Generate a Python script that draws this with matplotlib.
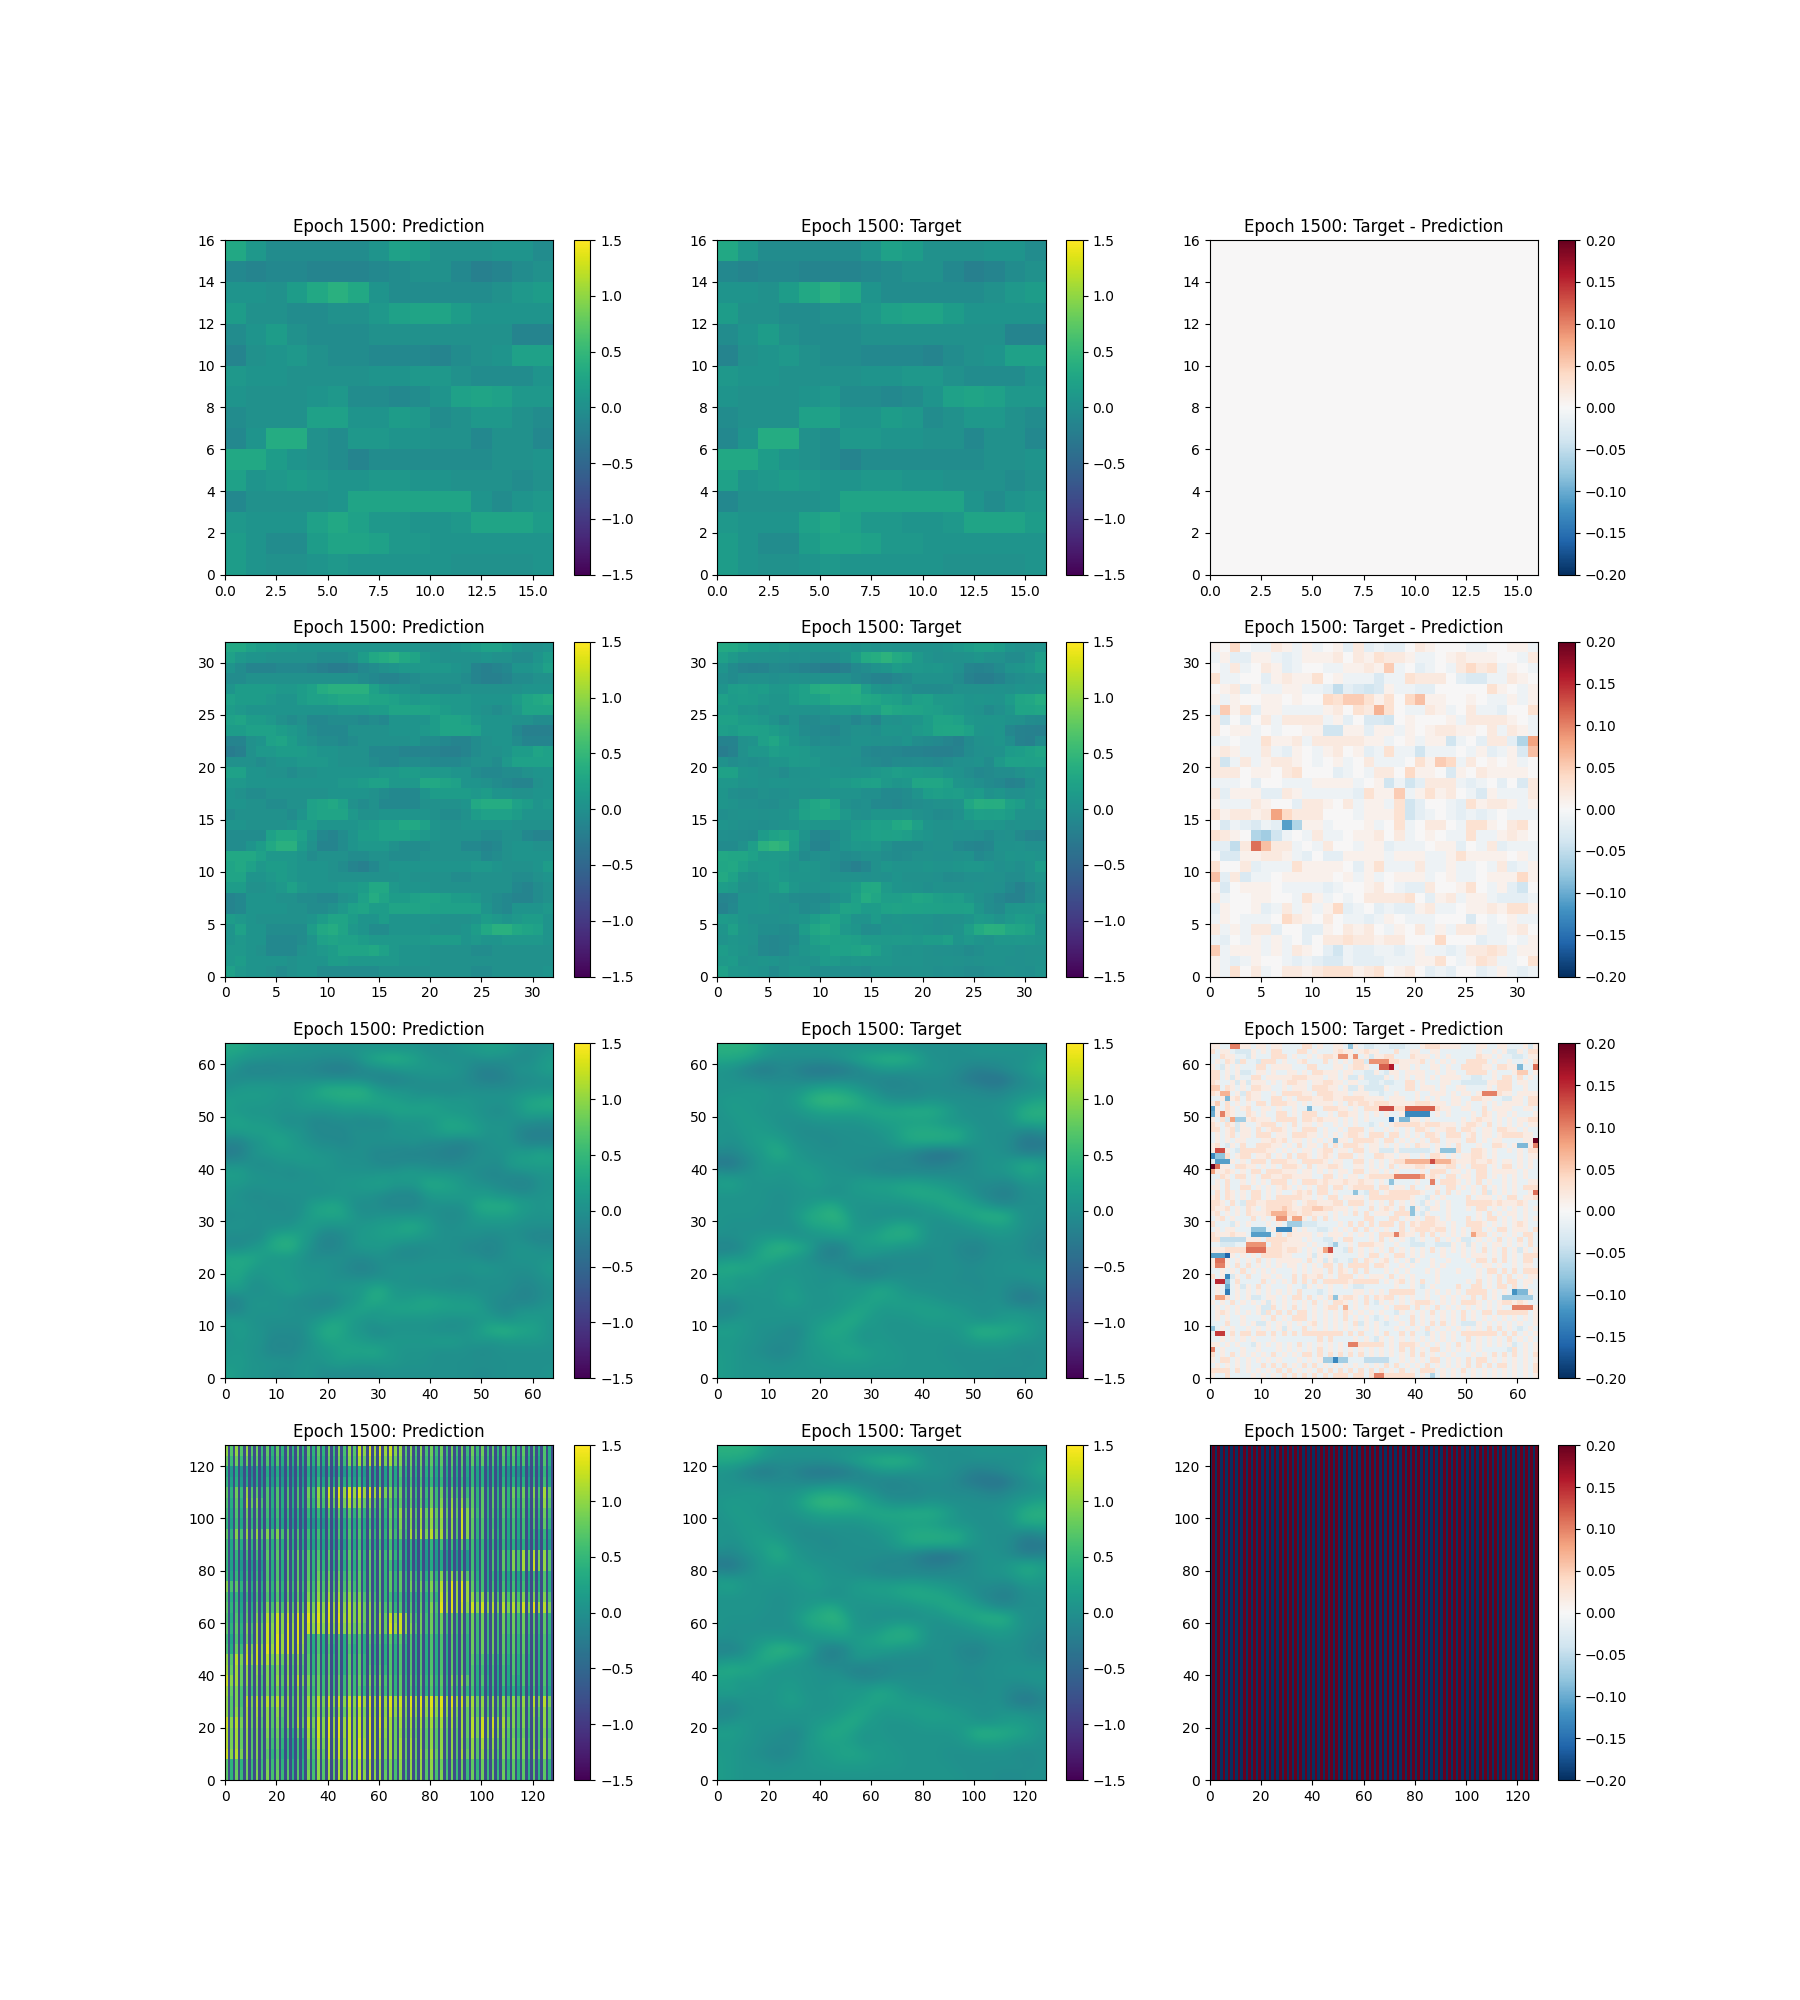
import numpy as np
import matplotlib
matplotlib.use("Agg")
import matplotlib.pyplot as plt

TITLES = ["Epoch 1500: Prediction", "Epoch 1500: Target", "Epoch 1500: Target - Prediction"]

# 16x16 prediction, top row first, in steps of 0.05
pred16 = [
 [6,2,-1,-1,-1,-1,-1,1,4,3,0,0,0,1,1,-1],
 [-2,-3,-2,-2,-3,-3,-3,-2,-1,0,0,-2,-4,-3,-1,0],
 [1,1,0,3,6,8,6,1,-1,-1,-1,-1,-1,0,2,3],
 [3,0,0,-1,-1,0,0,2,4,5,5,3,1,1,1,1],
 [-1,1,3,0,-1,-1,-1,0,0,0,0,0,0,0,-3,-3],
 [-3,0,1,2,0,-1,-1,-2,-2,-2,-3,-1,0,1,4,4],
 [2,1,1,0,0,0,0,1,1,2,2,0,-1,-1,-1,1],
 [1,0,0,0,1,2,-1,-1,-2,-1,1,4,5,4,2,2],
 [-1,0,0,0,4,4,1,1,3,2,-1,0,2,2,0,-1],
 [-2,1,7,7,0,-1,2,2,1,1,0,0,-2,0,0,-2],
 [6,6,3,1,0,-1,-3,-1,-1,-1,-1,-1,-1,0,0,1],
 [4,1,2,3,2,1,1,2,2,1,1,0,0,0,-1,0],
 [-2,0,0,0,0,1,5,5,5,5,5,5,1,-1,1,2],
 [2,1,1,1,4,6,4,2,2,1,1,2,5,5,5,3],
 [3,1,-1,-1,3,5,5,4,2,2,1,1,1,1,1,1],
 [3,1,0,0,1,2,1,1,1,1,1,0,0,0,0,1],
]

# 32x32 field of the coarser panels, top row first, in steps of 0.05
field32 = [
 [6,6,4,3,3,2,2,1,1,1,1,1,1,1,1,1,1,1,1,0,0,0,1,2,3,4,4,3,1,0,0,1],
 [4,2,1,1,0,0,0,0,0,-1,-1,-1,0,3,6,7,8,6,5,2,1,0,0,0,0,1,0,0,-1,-1,1,3],
 [1,-1,-3,-3,-3,-2,-2,-2,-3,-4,-5,-5,-4,-2,-1,0,1,2,2,2,2,2,1,0,-3,-4,-3,-2,1,1,2,4],
 [-1,-1,0,0,0,0,0,0,0,0,0,0,0,-1,-2,-3,-3,-2,-1,0,0,0,0,-1,-3,-4,-4,-3,-1,-1,0,0],
 [1,3,3,3,3,2,2,3,4,7,8,8,8,8,4,2,1,1,0,-1,-1,-1,-1,0,0,0,0,0,0,1,1,1],
 [4,3,3,3,2,1,1,3,4,4,5,6,6,6,5,5,4,3,2,3,3,2,2,2,1,1,1,1,3,5,6,7],
 [3,2,1,1,1,1,1,1,1,1,1,2,2,2,3,3,5,5,5,5,4,3,2,2,1,0,-1,0,2,5,5,5],
 [4,5,3,3,2,0,-1,0,-2,-2,-1,-1,-1,-2,-1,-2,1,1,1,1,3,5,5,4,2,1,1,1,0,0,-1,-1],
 [3,3,4,4,4,3,2,1,-1,-2,-2,-2,0,0,0,0,1,1,1,2,3,5,5,5,4,1,1,1,-2,-4,-4,-4],
 [-3,-3,0,1,4,5,3,1,0,-1,-1,-2,-1,0,0,0,0,0,1,-1,-1,-2,-3,-3,-1,0,1,1,-1,-3,-3,-3],
 [-5,-4,0,2,2,3,3,3,2,1,1,0,0,0,-2,-2,-2,-3,-3,-3,-3,-4,-4,-3,-1,0,0,1,3,3,5,4],
 [0,0,0,-1,0,1,1,2,2,2,1,0,0,0,-1,-2,-2,-1,-1,-1,-2,-2,-2,-1,0,0,-1,2,4,4,4,4],
 [4,4,1,1,0,0,-1,0,0,1,1,1,1,1,1,2,2,3,3,2,2,2,1,1,-1,-2,-2,-1,-1,0,1,1],
 [2,2,1,1,1,1,1,1,1,1,1,2,2,3,4,4,2,2,2,6,6,5,4,1,1,0,-1,-2,-3,-3,0,1],
 [1,0,-1,-1,0,0,0,0,0,0,1,1,1,1,0,-1,-2,-2,-2,1,3,3,3,3,2,3,1,1,0,0,1,1],
 [1,1,0,0,-1,-1,0,0,4,5,6,4,0,-1,0,-2,-2,-2,-2,0,0,0,0,1,6,7,7,7,4,3,1,2],
 [-1,0,0,0,0,0,-1,1,4,5,5,5,2,0,0,1,1,1,1,1,0,-1,-1,0,3,4,4,4,3,1,1,1],
 [1,1,0,0,0,0,1,3,3,1,1,1,1,2,3,4,4,6,6,4,1,0,0,1,1,1,1,1,0,0,0,0],
 [-1,-1,-1,-1,4,6,6,4,1,-2,-3,-1,1,3,3,4,4,4,3,2,1,0,0,0,0,-1,-1,0,0,-2,-3,-3],
 [-1,-1,1,3,6,8,8,3,0,-3,-3,-1,1,2,2,2,0,-1,-1,-1,0,0,0,-2,-2,-3,-2,0,1,1,0,0],
 [6,6,6,4,2,2,2,1,-1,0,0,0,-1,-1,0,0,-1,-1,-1,0,0,0,0,0,0,-2,-1,0,1,1,1,1],
 [5,6,4,2,3,3,2,1,1,1,0,-1,-3,-4,-2,0,1,1,1,1,1,1,1,1,2,2,1,0,0,0,1,3],
 [5,5,1,1,2,3,2,1,1,1,0,0,0,0,0,0,0,1,0,0,0,0,-1,-1,0,0,0,0,-1,-1,0,1],
 [3,3,0,0,1,2,4,2,1,1,1,2,2,3,6,6,2,1,1,1,0,0,0,0,0,0,0,0,-2,-3,-1,0],
 [-3,-2,1,1,1,0,0,-1,-1,-2,-2,0,1,4,7,5,3,3,4,5,5,4,3,3,2,0,-1,-2,-3,-3,-1,0],
 [-3,-2,1,1,1,1,0,0,-1,-1,0,2,4,5,3,3,5,5,5,5,4,4,4,4,4,1,-1,-2,1,1,1,2],
 [3,2,1,0,0,0,0,0,1,3,5,5,3,1,1,3,1,1,1,1,1,0,0,0,1,3,2,1,2,3,3,1],
 [1,4,1,1,-1,-1,-1,-1,3,6,7,5,2,1,-1,-1,1,1,1,1,0,0,0,1,3,6,8,8,6,5,4,1],
 [1,2,1,1,-2,-2,-2,-1,1,4,5,4,4,3,2,2,2,2,2,2,3,3,3,1,2,1,1,2,2,2,2,1],
 [2,2,1,0,-2,-2,-2,0,1,2,3,5,5,5,6,4,2,1,1,1,0,0,0,0,-1,-1,0,0,0,0,0,0],
 [2,3,1,1,1,1,0,1,1,1,3,3,2,2,2,2,2,1,1,1,0,0,0,0,0,0,0,0,0,0,0,0],
 [4,2,1,1,0,-1,0,1,1,-1,-1,-1,-1,-1,-1,0,0,0,0,0,0,0,0,0,-1,-1,0,0,0,0,0,1],
]

# 32x32 field of the sharp targets, top row first, in steps of 0.05
sharp32 = [
 [8,8,8,7,4,2,1,1,1,1,1,1,1,1,1,1,1,1,1,0,0,0,0,0,0,1,1,1,1,1,1,1],
 [6,6,5,3,1,0,0,0,0,0,0,1,2,4,6,7,8,8,7,5,1,0,0,0,0,0,0,0,0,0,1,3],
 [1,0,-2,-4,-5,-4,-2,-3,-5,-6,-6,-6,-5,-3,-1,1,2,2,1,1,1,1,0,-1,-3,-4,-3,-2,0,1,2,5],
 [1,1,0,0,-1,-1,-1,-1,-2,-2,-2,-1,-1,-1,-2,-2,-3,-3,-2,-1,-1,-1,-1,-3,-5,-6,-7,-7,-5,-2,0,1],
 [1,1,2,2,2,1,1,1,3,5,6,6,5,3,1,0,-2,-2,-2,-2,-1,-1,-1,-1,-1,-2,-3,-3,-1,0,0,1],
 [2,3,2,2,2,1,1,3,6,9,10,10,9,8,5,3,1,0,0,0,1,1,0,0,0,0,0,0,1,2,4,5],
 [1,3,3,2,1,1,1,1,3,4,5,5,5,5,5,6,6,6,7,7,7,6,4,1,0,0,0,1,2,6,8,8],
 [1,1,3,3,2,1,0,0,0,1,1,1,1,1,2,3,4,4,4,4,4,3,2,1,1,0,0,0,1,5,6,6],
 [1,1,2,3,3,2,1,0,-1,-1,-1,0,0,0,0,1,2,4,6,7,7,7,6,6,3,1,0,0,0,-2,-3,-1],
 [1,0,1,3,4,5,3,1,0,0,-1,-1,0,0,0,0,1,3,5,6,6,6,6,5,2,1,0,0,-1,-5,-6,-6],
 [-2,-2,0,1,3,6,6,2,1,0,0,0,0,0,0,0,-1,-1,-2,-4,-6,-7,-7,-5,-2,0,1,0,-1,-3,-4,-3],
 [-6,-6,-3,0,2,3,3,3,2,1,1,0,0,-1,-1,-2,-2,-2,-2,-3,-4,-4,-3,-2,-1,0,1,1,3,5,6,4],
 [1,0,1,1,2,2,1,2,4,3,1,1,1,0,0,-1,-1,-2,-1,-1,-1,-1,-1,-1,-1,0,1,1,2,4,5,3],
 [4,5,2,1,1,1,1,1,2,3,2,1,1,3,4,4,4,5,5,5,4,3,2,1,0,-1,-1,-2,-2,0,1,1],
 [1,1,1,1,1,0,0,1,1,1,0,0,1,2,2,3,3,4,5,6,6,6,5,3,1,-1,-3,-4,-4,-1,0,0],
 [1,1,1,1,1,0,0,1,2,4,6,6,2,1,1,1,1,1,1,2,3,4,6,6,5,3,1,-1,-1,0,0,0],
 [1,1,1,1,0,0,0,2,5,7,8,9,6,1,1,0,0,0,0,0,1,1,2,4,5,7,8,8,6,1,0,0],
 [1,0,0,0,0,0,0,0,3,5,5,6,6,2,1,2,4,6,6,4,1,0,0,0,1,2,3,4,3,1,0,-1],
 [0,0,1,1,2,2,2,1,0,1,2,3,3,3,4,5,7,7,7,5,1,0,0,0,0,0,1,1,1,0,-1,-2],
 [-3,-3,-1,2,5,8,9,7,6,1,-3,-4,-2,2,3,3,3,2,1,1,0,0,0,-2,-3,-3,-1,0,0,0,-2,-3],
 [1,2,2,4,6,6,4,3,1,-1,-3,-3,-1,1,1,0,-1,-1,-1,-1,-1,0,0,-1,-2,-2,0,0,0,0,-1,-1],
 [6,7,6,5,3,2,1,1,1,1,0,0,-2,-4,-4,-3,-2,-1,-1,-1,-1,0,0,0,-1,0,0,0,1,1,1,1],
 [4,3,2,3,2,1,2,2,1,1,0,1,1,0,-1,-1,0,0,0,0,0,0,0,-1,-1,-1,0,0,0,0,1,1],
 [3,4,2,1,2,1,3,3,1,1,1,2,2,2,3,5,5,3,1,0,0,0,0,0,0,-1,0,0,-2,-3,-3,-1],
 [0,-1,1,1,1,1,3,4,2,1,1,1,2,3,4,5,4,4,3,3,2,1,0,0,0,0,0,0,-3,-5,-5,-3],
 [-2,-2,0,1,1,1,1,1,1,1,1,2,3,5,5,3,2,3,3,4,4,4,3,2,1,0,0,1,1,1,0,0],
 [0,1,2,1,1,1,1,1,1,2,3,4,6,6,3,2,1,1,1,2,3,3,3,3,2,1,1,2,3,3,2,1],
 [4,4,2,1,0,0,-1,-2,0,3,5,6,5,3,1,2,1,1,1,1,1,1,1,2,5,8,8,7,6,5,3,1],
 [2,2,1,1,0,-1,-1,-1,1,3,4,4,4,3,1,2,2,1,1,1,1,1,1,1,2,3,3,3,2,1,1,0],
 [3,2,1,0,-1,-2,-2,-1,1,2,3,4,5,5,4,3,2,2,1,1,1,1,0,0,0,0,0,0,0,-1,-1,0],
 [3,2,1,1,1,0,0,1,1,2,2,3,3,3,3,2,2,2,1,1,1,1,1,0,0,0,0,0,0,0,-1,0],
 [3,2,1,1,1,1,1,1,1,1,1,1,1,1,1,1,1,1,1,1,1,1,1,1,0,0,0,-1,-1,-1,0,0],
]

# 32x32 difference, top row first, in steps of 0.01
diff32 = [
 [1,0,4,0,-1,-1,2,1,-1,1,-1,0,1,-2,2,-2,-1,-2,-2,0,2,1,0,0,0,-1,-1,0,0,1,1,-1],
 [-1,1,-2,-2,1,1,-1,-2,-1,1,1,1,2,0,2,1,3,2,2,1,-1,-1,0,1,2,1,1,1,0,0,-1,2],
 [0,-1,2,-1,0,2,1,-2,-1,0,0,-1,-1,1,1,2,1,5,-1,0,-2,-1,0,-1,2,4,2,3,-1,1,0,-1],
 [3,-1,-1,0,0,-2,1,2,1,1,3,0,1,-1,-1,-1,-3,-1,-1,3,2,2,2,0,-2,-3,-3,-1,-1,2,1,0],
 [0,1,2,-2,1,-1,-1,1,1,-1,-1,-2,-5,-2,-3,-4,-3,1,-1,-1,-2,-2,0,0,0,0,0,3,1,0,-1,1],
 [1,-1,1,0,0,1,1,0,1,0,0,4,3,5,5,3,1,3,0,4,6,1,1,0,0,1,0,-1,-1,1,-1,1],
 [-2,5,1,3,-2,1,1,-1,-1,-1,-1,1,2,0,3,2,7,3,0,-1,-1,2,1,-1,0,2,-1,-1,-2,0,0,3],
 [2,-3,0,-2,0,2,-1,2,2,2,2,-1,1,-2,0,-3,-3,-4,0,1,0,0,0,1,-1,2,2,2,2,1,0,-1],
 [2,0,1,1,-1,0,-1,0,0,1,1,-4,-4,1,1,-2,1,1,-1,1,0,1,2,2,1,1,0,2,-1,2,1,-1],
 [-1,-1,0,-1,-1,3,1,1,2,-1,2,2,2,2,2,1,1,-1,0,1,-1,1,1,-4,-1,0,-2,2,2,-2,-6,8],
 [1,2,1,-1,-1,2,-1,-2,1,0,-1,1,2,0,1,-2,-1,3,-1,-1,-4,-1,-1,-1,0,-1,1,-2,-1,1,-3,6],
 [2,-4,-1,2,-1,1,2,2,1,0,-1,0,1,-1,0,2,-1,-1,-1,0,3,1,5,4,-1,2,0,1,0,1,-1,0],
 [2,2,2,0,1,1,0,2,3,0,0,0,-2,-1,0,-1,2,2,0,4,1,1,0,-3,1,0,2,1,1,1,1,0],
 [-1,-1,-1,0,-2,0,0,-1,-1,-1,1,1,1,1,-1,0,1,-4,-1,-4,-2,2,2,2,-1,-2,-1,0,-2,0,-3,2],
 [2,-2,1,1,1,-2,-2,2,1,-1,-1,-1,-1,-1,-2,3,1,1,5,-1,1,3,1,2,0,-1,-3,1,-1,-1,-1,2],
 [1,-1,-1,-1,2,1,0,0,-2,2,2,1,0,2,-1,1,1,-1,3,-4,-2,0,0,-1,-2,3,1,2,2,1,-1,1],
 [3,1,2,2,1,2,8,4,2,2,2,0,0,0,-1,1,1,1,3,-4,-2,-1,0,-1,-2,-1,-2,-1,0,-1,-1,-1],
 [0,-3,-1,-2,-3,-1,-2,-11,-6,1,1,-1,0,0,0,1,-1,0,3,-1,0,2,2,0,-1,3,3,1,0,2,3,0],
 [3,2,1,0,-6,-7,-4,-1,0,-1,2,-1,-1,0,1,1,2,0,2,-1,0,1,0,-1,-1,3,-1,-1,1,2,1,0],
 [-2,-2,-5,2,11,6,2,2,-1,0,-1,2,0,0,-1,1,1,-2,-1,-1,-1,0,1,1,-2,0,-1,2,-2,-1,-1,-1],
 [0,-3,-3,1,1,2,2,1,-1,-2,0,-2,-2,1,1,1,1,-1,1,1,1,-1,-1,1,3,1,1,1,1,0,1,-1],
 [3,0,0,2,-2,-1,-1,-1,3,1,1,1,1,0,-2,1,3,-1,-1,-1,2,-1,-1,1,-1,-1,0,-1,2,-2,-1,1],
 [6,-2,2,-3,-1,-1,0,1,1,1,1,1,0,1,-1,1,-1,0,1,1,1,-1,0,1,-1,-1,0,1,1,1,4,1],
 [1,-3,0,1,1,1,0,-1,-1,-1,-1,-2,-1,0,0,1,2,0,-1,-2,-2,2,0,0,1,3,0,-1,1,-2,-4,0],
 [2,-1,0,0,1,1,0,0,-1,3,1,-1,0,-1,0,2,2,2,2,3,0,-2,1,2,-1,1,1,-1,-2,-2,-2,-1],
 [-2,1,0,0,1,-2,-1,2,-1,1,-1,1,4,-2,-1,0,-2,-1,-2,-2,1,2,-1,-1,0,1,1,2,1,3,3,1],
 [-1,1,0,-1,-1,-1,0,4,2,1,0,2,0,-1,-1,-2,-1,1,0,-1,-1,-1,0,0,0,-3,0,-1,0,1,-1,-1],
 [2,-1,1,-1,2,2,-2,0,0,-2,-2,1,0,2,1,2,0,-1,1,0,2,-1,1,-1,2,2,1,-1,-1,1,2,0],
 [-1,-2,0,-1,1,-1,1,-1,0,-2,0,2,2,3,2,2,1,2,2,0,0,0,4,0,0,0,-2,-1,-1,0,-1,1],
 [5,-1,1,1,1,-1,1,-1,2,1,0,-2,-4,-1,-2,-2,-1,-1,-2,-1,1,-1,-1,-2,-1,2,2,3,2,-1,1,1],
 [1,-1,-2,-1,1,0,0,-1,-2,-1,-2,-3,-3,-1,-2,-2,-2,-1,-1,-1,1,1,3,0,-1,1,3,2,-1,-1,0,3],
 [1,-1,3,0,2,-1,0,2,2,1,2,3,3,3,1,2,3,0,1,2,0,-2,-1,-2,0,0,-2,-1,1,-1,-2,-1],
]

# 64x64 difference, faint texture, top row first: digits positive levels, letters negative
diff64_rows = [
 "11aa2211a11a11aaaa22a1aa11ab1abbaaabbbaaa12221111aaa11aa11aaa1b1",
 "2a11abbb1a1a22aaa22a1aaa1211a1211aaa2aa11aa11aaaaaaa1aa1a1bb1a22",
 "aa211aab1aaa222a1aa1a12211211a1b1122aaa2111a1a1aaaaa211a1aabba11",
 "a1a21b2aab222a1aa12aaa2a1a1a22b21122211112a1a1a1aa2222a1aa1aa1a2",
 "1ab1a1aaa22a1111aaa22aaa11a1221aa11aa11a1aa11a1aa222211a2211baa1",
 "22a1a1bba11a1aa11a1a22111a11aabb1ab11a1111aa1a11aa2222a1aaa1a1a1",
 "22a1b1aa22a11111222111a11a1bb1bbbb1a1a1a11a1a1111aabbaa1a22a2a1a",
 "21aa1b1b111a1a12211a112211a11aabbabbaa22a1aaa11aabbbbb11222a11aa",
 "33a21a1a2211aa1a111a22211a1bb1bbbb1aaa22a111a1aa11aaaa1a222aa1aa",
 "21a2a1b211aa1a222211a222111a111aabaa1aaa1aa111a1a11a11a2211a1111",
 "aa1a12a211aa22a1a22211221122221111a111aa1a1a1aa11aa2211aabb11a22",
 "13a2a1a1a22a22211a1a1111a1a2122122211111222111a11a1aa1a1a1111a22",
 "a1a21a12aa11a1aa1aabaa22211a1a22222222112222211aa11aa2a1111aa11a",
 "a1a21aa21a1aa22a1a222aa1a2211a1a1a1aa1aa111a1a1aaaa1a21a11a1aaa1",
 "1a2b1bb12111a2222a2212111a1a1a1aaaa1a2211a1aaaaaa1a1211a1a1a1122",
 "21a21b1aa1222a1a2a11a1aa1a1a1aaba1a1222221222111a1221a2a1a1a1a11",
 "22a12b11a2a1221a1a222a1aa1a222a1aa1a1a1a221a1122a221a11a2211a1aa",
 "a1a12a11a222a11a22211a1a1a1221a222a22a1a1a221a222a12a11a1222211a",
 "a1a1a11aaa11212a11a1a1a1a11a22221a22a1a1a1a22a111a22a1a11aaaa111",
 "12ab1a2aa22211a1a2a11a2a2a2221a11a1a1a1a211a1a1a2aaa1aa221a11a11",
 "1a21ab2222211a1a1a11a122a11a22a11bbb1bbbbbba1a1a2aa221a1aa1a1a22",
 "a1a2a122a112a1a2a221a121a222a1aa2211a11aa1a221a1a11221a1aaaa1a11",
 "a1a21a1a222a22211a22221a11aa22a1a1a122222222212211121121a11a1a1a",
 "2211a2211a1a1a2221a2a11221aa11a1a1a2a111221a1122a1a222a1a22a1a1a",
 "21121a1a22a222111a11a1a1a11a22a11a1a1aaaa1a222a11a1a22a11111a1aa",
 "aa21a22a1a2211221111aa22a1a11a122222114444121a22a11a22a1a1a1a1aa",
 "a1a2aa1a1a1a222a1a22212111211211a1aaaaaa1aa1a2221a1a2a1aa1a1aa11",
 "11a2aa22a1a1a121a1a1a22a22a12222a22a11a2aa1a1a22a1a1a2a1a1a1a222",
 "a2a21a1a22a1a1aa1212a22a1aaaaab22a12222221aa2a2a1aa1a2b1a1a1aa12",
 "12a21a1a22a1a2222211a1a22a1111a222222221aab1a1aaaa2a111a1a22a112",
 "221a2ab2211222221a12211122a222a1a1a2a1a1ab1a1a1aaa222221211121aa",
 "2112a1a21a12223211223322111a1aa2a121a2aa1ab11a1aaa1a22a1a1a1a1a1",
 "12a1a1a2111222322122111a1a1a2a2a111a2221ab1aaa1aaaaa1a2a1a11a1aa",
 "a12a1aaa2a1a12311a1a2a2a1aaaaa22aaa22a1a1a221a1aaa2a1a22a1a1a1a1",
 "2aaab1a1aaa1a1aa1bbbbaaaa1a2a2a2a222a2a2122211a1aa2221a1a1a121aa",
 "a1a11aaa1aaa1aaa1a1aabba1a1a2a2a1a1aa2a1222122a1a1a22a1a22a111a2",
 "2111211a11aaa2a21111a1a111a1a1a1a2222211a2a2a1a1a1a222a1a1a1a22a",
 "2222222111a2222111a1aabb1a22aaa1a2a1a1aba1aa2a1a1bba1a1a2a1a2a2a",
 "aabbbaa1bbaa2211111a1aab1aa1a22211aa1aabbbaabbb1a1b1a1a11a1a1a2a",
 "111222212222221221a1a1a1aab2a1a1a1a2a1a1a1a2a1a1a1a1a2a1a2a1b1a1",
 "22aa1a1a1a222211aaa1b1a1aaaaa1a22a1a22a1a1aaa1aaa1a111a1a2a1a222",
 "1a21a1a1a2a1a11111a2a1b1baab2a21a12a1a1b1aa1aa1aaa1a22a2a2a1a22a",
 "1a21a2a2a1a1a1a11a1a1a22a2a2222a221aa1a1aaa1a1aaaaa1a11a1aa1a11a",
 "aa1a1a2a1a1a1aaa1a1a11a2a21a2a2aaa1a1a1aaa1a1aaa1aaa1a22a2a2a222",
 "2a1ab1a2aa11a1aa2a2112a1a222a1a111a2a1a1aaaa1aaaaaaa1a1a2a2a1a11",
 "a1a1a2aaaa2a1a1a2a2a2a22222122222a1a12a1a2aa1aaaaa1a2a1a2a22a11a",
 "a1a1a1b1a2a1aaa1aab1a1a1aa1abbaaaaaa1aa1aba1aaaa2aa22a1a22a2a1aa",
 "a1a1a1a1a1a1a1a1a2aaaba1aaaa11a1a1a22222aa1a1a1a1a2222a1a1aa1a1a",
 "a1a2a1a1bba11a1a22a2a1a2a1221a2a2122a1a1aa1aa1a1a1a2a2a1a2aaaaaa",
 "1a1a2a1a1a1b1a1a1a1a2a1a221a1a2ab1a1a1a12221a1a1a2221a1a122121aa",
 "a1a1a1aaa1bb2a1a2a1a1a122a1a1a1aaa1a222a2a1a2a1a1a1a1a1a1aaaa1a1",
 "a121a1a1a1b2a2a2a22a1a1a1a21a1a1a1aab1a1a1a2a1a1a2a1a22a222222a1",
 "a1a1aa1aaa1a2a1a222a1a1a1a2a1a1aba1a1aa2a1a1a1a1a2a1a1a1a1a1a1a1",
 "aaa2aa1a1bb1a1a1a1a12a1a1a1a2b1a1abaa1a2a1a2a2a1abbb1a1a1a1a1aa1",
 "aa1a1aa1a1a1a1b1aa2a1a1a1a1a1a1a1aaa1a1a1a2a1a1a1a1a1a2a2a1aba1a",
 "aa2a2a22a22a2a2a2a22222222a2a2aa1a2aa2a2aab1a1a1a2222222a2a2a1a1",
 "aa1a1a1a1aaa1aaaaaaaa2a2aaaa1a1ab1a1a1a1a1a1a1a1aa2a1a1a1a2a1a1a",
 "11a1a1aab1a1a1a1a2a1a1a1a1a1a22222a1a2221a1a1a1a2a1a1a1a1a1ba1a1",
 "1a1aaa1aa1aaa1a1a1a1a2a1a1a1a1a1a1a1a2a2a1a22a1a1a1a1aaaaab2a1a1",
 "2a1a2a1a1a1a2a1a1a22a2a2a2a2a2a1a1a1a1a2a2a1a1a1aaa1a1a2a2a2a1a2",
 "1a22a1a1a1a1a1aaa1a1a1a1aa1aaa1aaaaaa1a1a1a22a1a1a2a22a1a1a1a1a1",
 "a1a1a1a1aa2a2a2a1a2a2a1a1a1a1a1a1a2a2a1a1a2a1a1a1a2a2a2a22a1a1a2",
 "2222a2a1a1a1a2a2a1a1a2a2a2a2a2a2a2a1a2a1a222a1a1a2a1a1a1a1a1a1a2",
 "1aa2aaaa1a1a1a2a2a2a2a2a222a22a22a222222a1aba1a1a1a1a1a1a1a1a1a1",
]

# strong cells of the 64x64 difference: row from the top, first col, last col, value
diff64_spots = [
 (0,4,5,.10),(0,27,27,-.08),(2,25,26,.09),(2,28,28,.09),(3,31,34,.09),(4,33,35,.12),(4,35,35,.16),
 (4,60,60,-.09),(4,63,63,.11),(5,60,61,.05),(9,53,55,.10),(9,2,3,.07),(10,3,3,-.09),(12,0,0,-.11),
 (12,19,19,-.09),(12,33,35,.13),(12,38,43,.12),(13,0,0,-.10),(13,38,42,-.13),(13,2,2,.10),
 (14,35,35,-.15),(14,37,38,-.09),(14,4,4,.08),(14,5,6,-.07),(18,24,24,-.09),(18,63,63,.21),
 (19,63,63,.10),(19,60,61,-.09),(20,1,2,.13),(20,45,47,-.08),(21,0,0,-.13),(21,1,2,-.08),
 (22,1,3,-.11),(22,38,46,.07),(22,43,43,.13),(23,0,0,.21),(23,1,1,.11),(24,0,0,.08),
 (25,36,40,.10),(26,43,43,.10),(26,35,35,-.08),(28,63,63,.11),(28,28,28,-.08),
 (31,39,39,-.08),(32,39,39,-.08),(32,12,14,.07),(33,13,14,.09),(33,16,17,.08),(34,15,17,-.07),
 (35,8,10,-.08),(35,13,15,-.13),(36,8,11,-.11),(36,36,36,.10),(36,51,51,.08),(37,2,6,-.05),
 (38,7,10,.09),(38,24,24,-.07),(39,7,10,.11),(39,23,23,.13),(39,22,22,.08),(40,0,2,-.11),
 (40,3,3,-.16),(41,1,2,.11),(42,1,2,.10),(44,3,3,-.13),(45,1,2,.15),(45,3,3,-.08),(46,3,3,-.10),
 (47,3,3,-.14),(47,59,59,-.12),(47,60,61,-.09),(48,1,2,.08),(48,24,24,-.08),(48,57,62,-.07),
 (50,59,62,.10),(50,26,26,.07),(54,0,0,-.08),(55,1,2,.14),(57,27,28,.10),(58,0,0,.10),
 (60,22,26,-.07),(60,24,24,-.13),(60,30,34,-.05),(63,32,33,.10),(63,43,43,-.06),
]

# bright columns of the 128x128 prediction per 4x4 block, top row first, in tenths
bright128 = [
 [10,10,10,8,7,7,7,7,7,7,8,9,10,13,14,14,13,10,9,9,8,8,8,8,8,8,7,7,7,7,6,6],
 [8,8,8,7,6,6,6,6,6,6,7,8,9,11,12,12,11,9,8,8,7,7,7,7,7,7,6,6,6,6,5,6],
 [3,2,1,2,2,2,2,2,2,2,2,3,3,3,4,4,5,6,6,6,5,5,5,5,4,3,3,2,1,1,3,4],
 [4,3,2,2,3,3,3,3,3,4,5,6,4,4,4,4,5,5,5,5,4,4,4,4,4,3,3,3,3,3,4,5],
 [7,8,10,7,6,6,6,6,8,10,13,14,14,14,14,12,9,8,8,8,8,8,8,8,7,7,7,7,8,8,9,11],
 [6,7,11,9,6,6,6,6,7,9,11,12,12,11,10,8,7,7,7,7,8,9,10,10,7,7,7,7,7,7,8,10],
 [5,6,8,7,5,5,4,3,4,4,6,7,7,7,7,7,8,10,10,11,11,11,11,13,8,7,6,6,6,6,7,8],
 [4,5,7,6,4,4,3,2,2,2,4,5,5,5,5,6,7,9,9,10,10,10,10,13,7,6,5,5,5,5,6,7],
 [7,9,10,10,9,9,7,6,5,5,5,6,6,6,7,7,8,8,11,12,12,11,10,13,7,6,6,5,5,5,4,4],
 [5,6,7,7,6,6,6,5,4,4,4,4,5,5,5,5,5,4,4,4,4,5,5,7,5,4,4,4,3,3,3,3],
 [5,4,5,5,7,7,8,8,7,6,7,7,7,7,8,8,7,5,4,3,3,2,2,3,5,5,6,7,9,11,12,10],
 [4,3,3,3,6,6,7,7,7,7,6,6,6,6,7,7,5,4,3,2,2,2,2,3,5,5,6,7,9,11,13,10],
 [5,4,4,4,6,6,7,7,7,8,8,8,7,7,7,7,7,7,7,6,7,9,10,10,6,5,4,4,4,4,5,6],
 [9,7,6,6,7,7,8,8,8,9,9,9,8,7,7,7,7,7,8,8,9,12,14,14,7,5,5,5,5,5,6,6],
 [6,4,4,5,6,6,7,7,9,10,11,11,10,9,8,7,5,5,5,6,7,13,14,14,10,10,9,9,9,9,9,9],
 [7,5,6,7,9,9,10,10,12,13,14,13,12,11,10,9,7,6,6,7,9,14,14,13,13,13,12,12,12,13,14,12],
 [6,6,7,9,12,13,13,14,14,14,14,14,12,11,10,11,13,13,8,8,8,8,8,8,8,8,8,8,8,8,7,7],
 [7,7,9,11,13,13,14,14,13,13,13,13,11,10,10,11,14,13,9,8,8,8,8,8,8,8,8,8,8,8,7,7],
 [5,6,8,11,13,14,14,14,6,6,7,6,7,6,7,7,7,7,6,6,6,6,7,7,8,8,8,7,7,7,6,6],
 [6,8,12,13,14,14,14,13,6,6,6,6,6,6,6,6,6,6,6,6,6,6,7,7,8,8,8,7,7,7,6,6],
 [10,12,13,13,12,11,10,10,7,7,7,6,7,7,6,6,6,6,6,6,6,6,7,7,7,6,6,6,6,6,6,6],
 [11,11,10,10,9,9,9,9,7,7,7,6,7,7,7,7,6,6,6,6,6,6,7,7,6,5,5,5,6,6,6,6],
 [13,11,10,9,9,10,10,12,9,8,8,8,8,8,9,9,7,7,7,7,7,7,9,10,6,6,5,5,5,6,6,6],
 [11,9,8,8,8,8,8,9,8,8,8,8,8,7,8,8,7,7,6,6,6,6,7,7,5,4,4,3,3,4,5,5],
 [10,9,12,12,12,12,10,10,11,12,13,13,13,14,14,14,14,13,14,14,14,14,14,13,11,10,10,10,10,10,12,12],
 [10,10,11,11,10,10,9,10,10,11,11,11,12,12,13,13,13,12,13,13,13,13,12,11,10,9,9,9,9,9,10,10],
 [13,12,11,10,10,9,9,11,12,13,14,14,13,13,14,14,11,11,11,11,11,11,11,11,12,13,13,11,9,9,9,10],
 [12,11,10,9,9,8,6,8,11,13,14,14,13,13,14,13,11,10,10,10,10,10,10,11,12,13,12,10,8,8,9,9],
 [12,11,10,9,8,7,4,5,10,12,13,13,13,14,14,12,11,11,11,10,10,10,10,10,10,11,10,9,9,9,9,10],
 [13,12,10,9,7,6,4,5,9,11,13,13,13,14,14,12,11,11,11,11,11,10,10,11,10,10,9,9,9,9,10,10],
 [7,7,8,8,8,7,6,6,8,10,11,11,12,12,12,10,9,10,10,10,10,8,8,8,7,8,7,7,7,7,7,7],
 [7,8,8,9,9,8,7,7,9,10,11,12,12,13,13,11,9,9,10,10,9,9,8,8,8,8,8,8,7,7,7,7],
]
dark_stripe = -0.8
bright_offsets = [0.15, -0.15]
bright_step = 0.085
diff_stripes = [-0.25, 0.25]

POS = [0, .016, .032, .05, .08, .11, .14, .16, .18, .21]

def decode(ch):
    if ch.isdigit():
        return POS[int(ch)]
    return -POS["abcdefghi".index(ch) + 1]

P16 = np.array(pred16, float)[::-1] * 0.05
F32 = np.array(field32, float)[::-1] * 0.05
S32 = np.array(sharp32, float)[::-1] * 0.05
D32 = np.array(diff32, float)[::-1] * 0.01

D64 = np.array([[decode(c) for c in r.ljust(64, "1")[:64]] for r in diff64_rows], float)
for row, c0, c1, v in diff64_spots:
    D64[row, c0:c1 + 1] = v
D64 = D64[::-1]

B = np.array(bright128, float)[::-1] * bright_step
P128 = np.full((128, 128), dark_stripe)
for i in range(128):
    for j in range(0, 128, 2):
        P128[i, j] = B[i // 4, j // 4] + bright_offsets[(j // 2) % 2]
D128 = np.tile(diff_stripes, (128, 64))

def cells(ax, Z, n, **kw):
    e = np.arange(n + 1)
    return ax.pcolormesh(e, e, Z, **kw)

def smooth(ax, Z, n, **kw):
    return ax.imshow(Z, origin="lower", extent=[0, n, 0, n], interpolation="bicubic", aspect="auto", **kw)

VK = dict(cmap="viridis", vmin=-1.5, vmax=1.5)
DK = dict(cmap="RdBu_r", vmin=-0.2, vmax=0.2)

fig, axes = plt.subplots(4, 3, figsize=(18, 20), dpi=100)

panels = [
    (cells, P16, 16, cells, P16, 16, cells, np.zeros((16, 16)), 16),
    (cells, F32, 32, cells, F32 + D32, 32, cells, D32, 32),
    (smooth, F32, 64, smooth, S32, 64, cells, D64, 64),
    (cells, P128, 128, smooth, S32, 128, cells, D128, 128),
]
for r, spec in enumerate(panels):
    for c in range(3):
        fn, Z, n = spec[c * 3:c * 3 + 3]
        ax = axes[r, c]
        im = fn(ax, Z, n, **(DK if c == 2 else VK))
        ax.set_xlim(0, n)
        ax.set_ylim(0, n)
        ax.set_title(TITLES[c])
        fig.colorbar(im, ax=ax)

fig.savefig("out.png", dpi=100)
